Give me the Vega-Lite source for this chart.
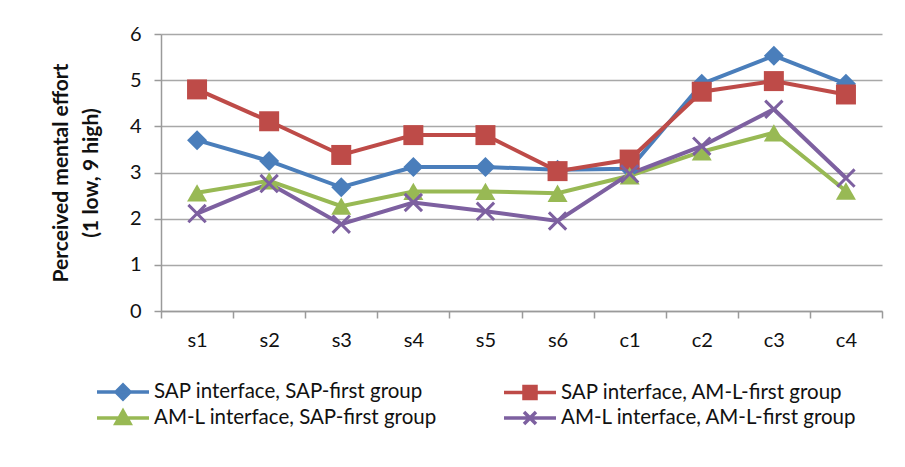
{
  "$schema": "https://vega.github.io/schema/vega-lite/v6.json",
  "width": 721,
  "height": 277,
  "autosize": {"type": "none"},
  "padding": {"left": 161, "top": 34, "right": 23, "bottom": 156},
  "background": "white",
  "config": {
    "view": {"stroke": null},
    "font": "Lato",
    "axis": {"labelFont": "Lato", "labelFontSize": 20, "labelColor": "#111111", "titleFont": "Lato"}
  },
  "data": {
    "values": [
      {"cat": "s1", "series": "SAP interface, SAP-first group", "value": 3.70},
      {"cat": "s2", "series": "SAP interface, SAP-first group", "value": 3.25},
      {"cat": "s3", "series": "SAP interface, SAP-first group", "value": 2.68},
      {"cat": "s4", "series": "SAP interface, SAP-first group", "value": 3.12},
      {"cat": "s5", "series": "SAP interface, SAP-first group", "value": 3.12},
      {"cat": "s6", "series": "SAP interface, SAP-first group", "value": 3.06},
      {"cat": "c1", "series": "SAP interface, SAP-first group", "value": 3.08},
      {"cat": "c2", "series": "SAP interface, SAP-first group", "value": 4.92},
      {"cat": "c3", "series": "SAP interface, SAP-first group", "value": 5.53},
      {"cat": "c4", "series": "SAP interface, SAP-first group", "value": 4.92},
      {"cat": "s1", "series": "SAP interface, AM-L-first group", "value": 4.80},
      {"cat": "s2", "series": "SAP interface, AM-L-first group", "value": 4.11},
      {"cat": "s3", "series": "SAP interface, AM-L-first group", "value": 3.38},
      {"cat": "s4", "series": "SAP interface, AM-L-first group", "value": 3.81},
      {"cat": "s5", "series": "SAP interface, AM-L-first group", "value": 3.81},
      {"cat": "s6", "series": "SAP interface, AM-L-first group", "value": 3.03},
      {"cat": "c1", "series": "SAP interface, AM-L-first group", "value": 3.28},
      {"cat": "c2", "series": "SAP interface, AM-L-first group", "value": 4.75},
      {"cat": "c3", "series": "SAP interface, AM-L-first group", "value": 4.98},
      {"cat": "c4", "series": "SAP interface, AM-L-first group", "value": 4.69},
      {"cat": "s1", "series": "AM-L interface, SAP-first group", "value": 2.56},
      {"cat": "s2", "series": "AM-L interface, SAP-first group", "value": 2.82},
      {"cat": "s3", "series": "AM-L interface, SAP-first group", "value": 2.27},
      {"cat": "s4", "series": "AM-L interface, SAP-first group", "value": 2.59},
      {"cat": "s5", "series": "AM-L interface, SAP-first group", "value": 2.59},
      {"cat": "s6", "series": "AM-L interface, SAP-first group", "value": 2.55},
      {"cat": "c1", "series": "AM-L interface, SAP-first group", "value": 2.93},
      {"cat": "c2", "series": "AM-L interface, SAP-first group", "value": 3.45},
      {"cat": "c3", "series": "AM-L interface, SAP-first group", "value": 3.86},
      {"cat": "c4", "series": "AM-L interface, SAP-first group", "value": 2.60},
      {"cat": "s1", "series": "AM-L interface, AM-L-first group", "value": 2.11},
      {"cat": "s2", "series": "AM-L interface, AM-L-first group", "value": 2.76},
      {"cat": "s3", "series": "AM-L interface, AM-L-first group", "value": 1.88},
      {"cat": "s4", "series": "AM-L interface, AM-L-first group", "value": 2.35},
      {"cat": "s5", "series": "AM-L interface, AM-L-first group", "value": 2.16},
      {"cat": "s6", "series": "AM-L interface, AM-L-first group", "value": 1.95},
      {"cat": "c1", "series": "AM-L interface, AM-L-first group", "value": 2.97},
      {"cat": "c2", "series": "AM-L interface, AM-L-first group", "value": 3.57},
      {"cat": "c3", "series": "AM-L interface, AM-L-first group", "value": 4.37},
      {"cat": "c4", "series": "AM-L interface, AM-L-first group", "value": 2.88}
    ]
  },
  "encoding": {
    "x": {
      "field": "cat", "type": "nominal",
      "sort": ["s1","s2","s3","s4","s5","s6","c1","c2","c3","c4"],
      "scale": {"paddingInner": 0, "paddingOuter": 0},
      "axis": {
        "title": null, "labelAngle": 0, "tickBand": "extent", "tickSize": 7,
        "tickColor": "#9A9A9A", "domainColor": "#9A9A9A", "domainWidth": 1.5, "tickWidth": 1.5,
        "labelPadding": 12, "grid": false
      }
    },
    "y": {
      "field": "value", "type": "quantitative",
      "scale": {"domain": [0, 6], "nice": false},
      "axis": {
        "title": ["Perceived mental effort", "(1 low, 9 high)"],
        "titleFontSize": 21, "titleFontWeight": "bold", "titleColor": "#111111",
        "titleLineHeight": 30, "titlePadding": 28,
        "values": [0,1,2,3,4,5,6], "tickSize": 7, "tickColor": "#9A9A9A", "tickWidth": 1.5,
        "domainColor": "#9A9A9A", "domainWidth": 1.5,
        "grid": true, "gridColor": "#A8A8A8", "gridWidth": 1.5,
        "labelPadding": 13
      }
    },
    "color": {
      "field": "series", "type": "nominal",
      "scale": {
        "domain": ["SAP interface, SAP-first group", "SAP interface, AM-L-first group", "AM-L interface, SAP-first group", "AM-L interface, AM-L-first group"],
        "range": ["#4A7EBB", "#BE4B48", "#98B954", "#7D60A0"]
      },
      "legend": {
        "title": null, "orient": "none", "legendX": -50, "legendY": 346, "columns": 2,
        "direction": "horizontal",
        "symbolSize": 400, "labelOffset": 19, "columnPadding": 60, "rowPadding": -3,
        "labelFont": "Lato", "labelFontSize": 20.5, "labelColor": "#111111", "labelLimit": 400,
        "encode": {
          "symbols": {
            "update": {
              "shape": {"signal": "datum.value === 'SAP interface, SAP-first group' ? 'M-2.6,0H2.6M0,-0.7L0.7,0L0,0.7L-0.7,0Z' : datum.value === 'SAP interface, AM-L-first group' ? 'M-2.6,0H2.6M-0.6,-0.6H0.6V0.6H-0.6Z' : datum.value === 'AM-L interface, SAP-first group' ? 'M-2.6,0H2.6M0,-0.7L0.7,0.55L-0.7,0.55Z' : 'M-2.6,0H2.6M-0.6,-0.6L0.6,0.6M-0.6,0.6L0.6,-0.6'"},
              "fill": {"scale": "color", "field": "value"},
              "stroke": {"scale": "color", "field": "value"},
              "strokeWidth": {"value": 3.5},
              "opacity": {"value": 1}
            }
          }
        }
      }
    }
  },
  "layer": [
    {"mark": {"type": "line", "strokeWidth": 4}},
    {
      "transform": [{"filter": "datum.series !== 'AM-L interface, AM-L-first group'"}],
      "mark": {"type": "point", "filled": true, "opacity": 1, "size": 400},
      "encoding": {
        "shape": {
          "field": "series", "type": "nominal",
          "scale": {"domain": ["SAP interface, SAP-first group", "SAP interface, AM-L-first group", "AM-L interface, SAP-first group"], "range": ["diamond", "square", "triangle-up"]},
          "legend": null
        }
      }
    },
    {
      "transform": [{"filter": "datum.series === 'AM-L interface, AM-L-first group'"}],
      "mark": {"type": "point", "shape": "M-1,-1L1,1M-1,1L1,-1", "filled": false, "opacity": 1, "size": 300, "strokeWidth": 3}
    }
  ]
}
